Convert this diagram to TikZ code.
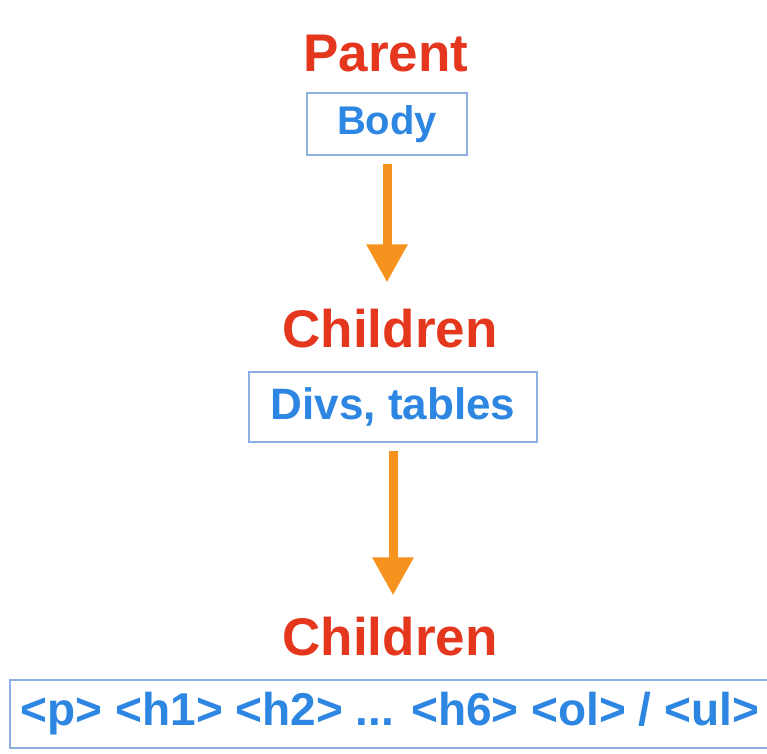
\documentclass[tikz,border=0pt]{standalone}
\usepackage{fontspec}
\setmainfont{Liberation Sans}
\usetikzlibrary{arrows.meta}
\definecolor{hred}{HTML}{E5361E}
\definecolor{hblue}{HTML}{2C86E2}
\definecolor{hborder}{HTML}{8DB0E3}
\definecolor{horange}{HTML}{F6921E}
\tikzset{
  title/.style={text=hred, font=\fontsize{53}{60}\selectfont\bfseries, inner sep=0pt, anchor=base},
  tagbox/.style={draw=hborder, line width=1.6pt, text=hblue, inner sep=0pt, fill=white},
  flow/.style={draw=horange, line width=9pt, -{Triangle[width=39pt,length=38pt]}}
}
\begin{document}
\begin{tikzpicture}[x=1pt,y=-1pt]
\useasboundingbox[fill=white] (0,0) rectangle (767,753);
\node[title] (parent) at (386,71) {Parent};
\node[tagbox, minimum width=160pt, minimum height=62pt, font=\fontsize{40}{46}\selectfont\bfseries] (body) at (387,124) {Body};
\node[title] (child1) at (390,347) {Children};
\node[tagbox, minimum width=288pt, minimum height=70pt, font=\fontsize{44}{50}\selectfont\bfseries] (divs) at (393,407) {Divs, tables};
\node[title] (child2) at (390,655) {Children};
\node[tagbox, minimum width=760pt, minimum height=68pt, font=\fontsize{46}{52}\selectfont\bfseries] (tags) at (390,714) {<p> <h1> <h2> ... <h6> <ol> / <ul>};
\draw[flow, shorten <=8pt, shorten >=26pt] (body.south) -- (body.south |- child1.north);
\draw[flow, shorten <=8pt, shorten >=21pt] (divs.south) -- (divs.south |- child2.north);
\end{tikzpicture}
\end{document}
